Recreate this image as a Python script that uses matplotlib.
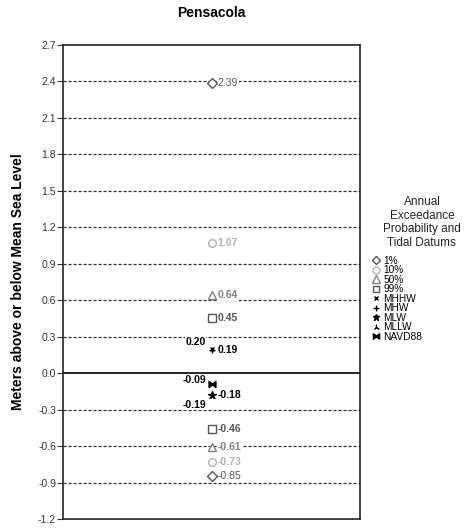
"""Pensacola: annual exceedance levels and tidal datums relative to MSL."""

import matplotlib

matplotlib.use("Agg")
import matplotlib.pyplot as plt
from matplotlib.lines import Line2D

# exceedance probabilities: upper and lower level, in metres
PROBS = ["1%", "10%", "50%", "99%"]
PROB_HIGH = [2.39, 1.07, 0.64, 0.45]
PROB_LOW = [-0.85, -0.73, -0.61, -0.46]

# tidal datums, in metres
DATUMS = ["MHHW", "MHW", "MLW", "MLLW", "NAVD88"]
DATUM_VALS = [0.20, 0.19, -0.18, -0.19, -0.09]

YTICKS = [-1.2, -0.9, -0.6, -0.3, 0.0, 0.3, 0.6, 0.9, 1.2, 1.5, 1.8, 2.1, 2.4, 2.7]

NARROW = ["Liberation Sans Narrow", "Liberation Sans", "DejaVu Sans"]
SANS = ["Liberation Sans", "DejaVu Sans"]

STYLE = {
    "1%": dict(marker="D", color="#555555", ms=5, fill=False, weight="normal"),
    "10%": dict(marker="o", color="#b0b0b0", ms=5.5, fill=False, weight="bold"),
    "50%": dict(marker="^", color="#808080", ms=6, fill=False, weight="bold"),
    "99%": dict(marker="s", color="#555555", ms=5.5, fill=False, weight="bold"),
    "MHHW": dict(marker="x", color="black", ms=3.5, fill=True, weight="bold"),
    "MHW": dict(marker="+", color="black", ms=4.5, fill=True, weight="bold"),
    "MLW": dict(marker="*", color="black", ms=5.5, fill=True, weight="bold"),
    "MLLW": dict(marker="2", color="black", ms=5, fill=True, weight="bold"),
    "NAVD88": dict(marker=r"$\bowtie$", color="black", ms=5, fill=True, weight="bold"),
}
# label placement (offset in points) for datums that sit on top of each other
LABEL_OFFSET = {
    "MHHW": (-4, 5, "right"),
    "NAVD88": (-4, 3, "right"),
    "MLLW": (-4, -6, "right"),
}

fig = plt.figure(figsize=(4.73, 5.31), dpi=100)
ax = fig.add_axes([0.1332, 0.0226, 0.628, 0.8927])

X = 1.0


def plot_point(name, val):
    st = STYLE[name]
    ax.plot([X], [val], linestyle="none", marker=st["marker"], ms=st["ms"],
            mec=st["color"], mfc=st["color"] if st["fill"] else "white",
            mew=1.0, zorder=5)
    dx, dy, ha = LABEL_OFFSET.get(name, (4.5, 0, "left"))
    ax.annotate(f"{val:.2f}", (X, val), xytext=(dx, dy), textcoords="offset points",
                ha=ha, va="center", fontsize=7.5, fontweight=st["weight"],
                family=NARROW, color=st["color"], zorder=4,
                bbox=dict(boxstyle="square,pad=0.05", fc="white", ec="none"))


for name, hi, lo in zip(PROBS, PROB_HIGH, PROB_LOW):
    plot_point(name, hi)
    plot_point(name, lo)
for name, val in zip(DATUMS, DATUM_VALS):
    plot_point(name, val)

ax.set_xlim(0, 2)
ax.set_ylim(-1.2, 2.7)
ax.set_xticks([])
ax.set_yticks(YTICKS)
ax.set_yticklabels([f"{t:.1f}" for t in YTICKS], family=SANS, fontsize=7.5, color="#333333")
ax.tick_params(axis="y", length=4, width=0.8, color="#333333", pad=1)
for t in YTICKS:
    if t == 0.0:
        ax.axhline(t, color="black", lw=1.2, zorder=1)
    elif t not in (-1.2, 2.7):
        ax.axhline(t, color="#333333", lw=0.9, ls=(0, (2.5, 1.5)), zorder=1)
for sp in ax.spines.values():
    sp.set_linewidth(1.2)
    sp.set_color("#222222")

ax.set_title("Pensacola", fontsize=10, fontweight="bold", family=SANS, pad=20)
ax.set_ylabel("Meters above or below Mean Sea Level", fontsize=10, fontweight="bold",
              family=SANS, labelpad=9)

# legend: centred title block, then the marker list below it
fig.text(0.892, 0.63, "Annual\nExceedance\nProbability and\nTidal Datums",
         ha="center", va="top", multialignment="center", linespacing=1.15,
         fontsize=8.5, family=SANS, color="#222222")

handles = []
for name in PROBS + DATUMS:
    st = STYLE[name]
    handles.append(Line2D([], [], linestyle="none", marker=st["marker"],
                          ms=st["ms"] * 0.9, mec=st["color"],
                          mfc=st["color"] if st["fill"] else "white", mew=1.0,
                          label=name))
fig.legend(handles=handles, loc="upper left", bbox_to_anchor=(0.787, 0.518),
           frameon=False, prop=dict(family=SANS, size=7.3), handlelength=0.8,
           handletextpad=0.3, labelspacing=-0.05, borderaxespad=0, borderpad=0)

fig.savefig("out.png", dpi=100)
